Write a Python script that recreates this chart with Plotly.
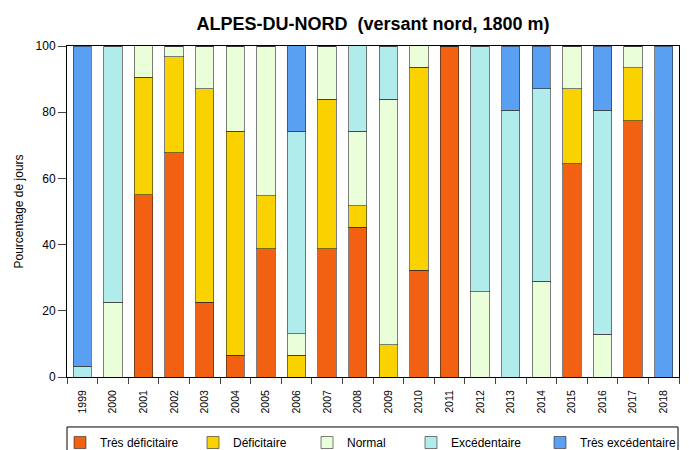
import plotly.graph_objects as go

years = [str(y) for y in range(1999, 2019)]
tres_deficitaire = [0, 0, 55.0, 67.7, 22.6, 6.5, 38.7, 0, 38.7, 45.2, 0, 32.3, 100, 0, 0, 0, 64.5, 0, 77.4, 0]
deficitaire =      [0, 0, 35.5, 29.0, 64.5, 67.7, 16.1, 6.5, 45.2, 6.5, 9.7, 61.3, 0, 0, 0, 0, 22.6, 0, 16.1, 0]
normal =           [0, 22.6, 9.7, 3.2, 12.9, 25.8, 45.2, 6.5, 16.1, 22.6, 74.2, 6.5, 0, 25.8, 0, 29.0, 12.9, 12.9, 6.5, 0]
excedentaire =     [3.2, 77.4, 0, 0, 0, 0, 0, 61.3, 0, 25.8, 16.1, 0, 0, 74.2, 80.6, 58.1, 0, 67.7, 0, 0]
tres_excedentaire = [96.8, 0, 0, 0, 0, 0, 0, 25.8, 0, 0, 0, 0, 0, 0, 19.4, 12.9, 0, 19.4, 0, 100]

series_names = ["Très déficitaire", "Déficitaire", "Normal", "Excédentaire", "Très excédentaire"]
series_values = [tres_deficitaire, deficitaire, normal, excedentaire, tres_excedentaire]
series_colors = ["#F26012", "#FAD200", "#EBFEDA", "#B0ECEC", "#5AA0F2"]

W, H = 689, 450
# left edge (px) of each legend entry, one legend per series to match the reference spacing
legend_x_px = [60, 193, 307, 411, 540]
legend_ids = ["legend", "legend2", "legend3", "legend4", "legend5"]

fig = go.Figure()
for name, vals, col, lid in zip(series_names, series_values, series_colors, legend_ids):
    fig.add_trace(go.Bar(
        x=years, y=vals, name=name, legend=lid,
        marker=dict(color=col, line=dict(color="rgba(40,40,40,0.6)", width=1)),
    ))

# legend frame (box)
fig.add_shape(type="rect", xref="paper", yref="paper",
              x0=0, x1=0.9984, y0=-0.30, y1=-0.151,
              line=dict(color="black", width=1), fillcolor="rgba(0,0,0,0)")

legend_layout = {}
for lid, xp in zip(legend_ids, legend_x_px):
    legend_layout[lid] = dict(orientation="h", xref="container", x=xp / W, xanchor="left",
                              yref="container", y=1 - 428 / H, yanchor="top",
                              borderwidth=0, font=dict(size=12), bgcolor="rgba(0,0,0,0)",
                              itemwidth=30)

fig.update_layout(
    barmode="stack",
    bargap=0.4,
    width=W, height=H,
    margin=dict(l=67, r=10, t=46, b=73),
    paper_bgcolor="white",
    plot_bgcolor="white",
    font=dict(family="Liberation Sans, Arial, sans-serif", color="black", size=12),
    title=dict(text="<b>ALPES-DU-NORD  (versant nord, 1800 m)</b>",
               x=373 / W, xanchor="center", y=1 - 24 / H, yanchor="middle",
               font=dict(size=18, color="black")),
    showlegend=True,
    xaxis=dict(type="category", tickson="boundaries", ticks="outside", ticklen=6,
               tickangle=-90, tickfont=dict(size=10.5), showline=True,
               ticklabelstandoff=8, automargin=False,
               linecolor="black", linewidth=1, mirror=True, showgrid=False),
    yaxis=dict(range=[0, 100], tickvals=[0, 20, 40, 60, 80, 100], ticks="outside",
               ticklen=8, tickfont=dict(size=12), showline=True, linecolor="black",
               linewidth=1, mirror=True, showgrid=False, zeroline=False, automargin=False,
               title=dict(text="Pourcentage de jours", font=dict(size=12), standoff=9)),
    **legend_layout,
)

fig.write_html("out.html", config={"displayModeBar": False},
               post_script="document.body.style.margin='0';")
